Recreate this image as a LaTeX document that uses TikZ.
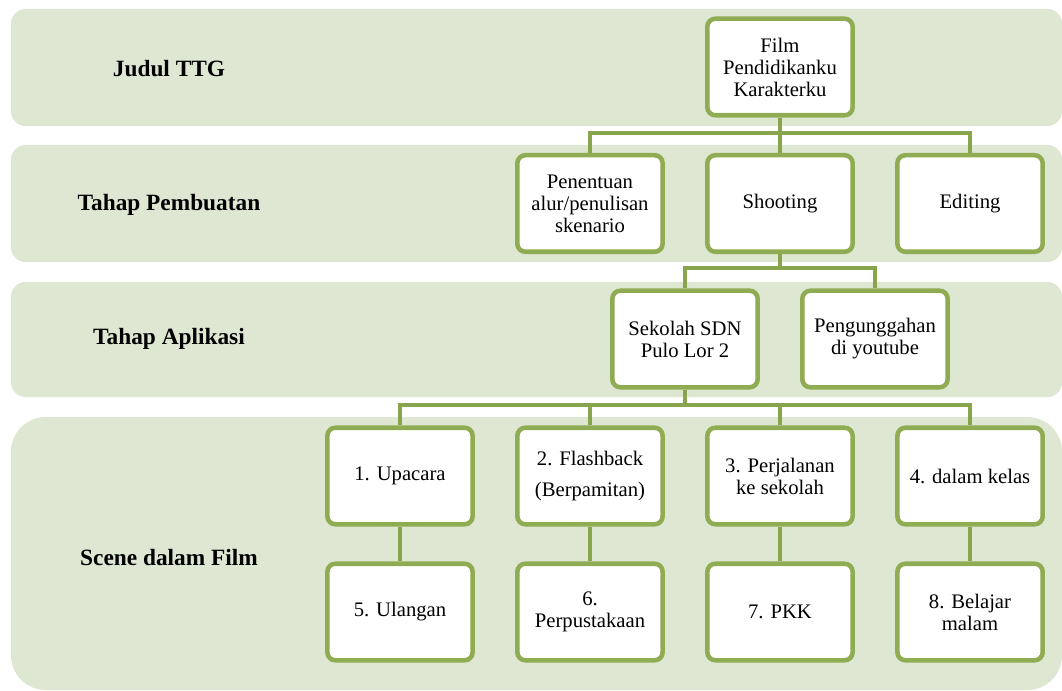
\documentclass[tikz,border=0pt]{standalone}
\usepackage{fontspec}
\setmainfont{Liberation Serif}
\usetikzlibrary{positioning, calc}
\definecolor{bandfill}{HTML}{DEE7D2}
\definecolor{boxline}{HTML}{8FAC52}
\definecolor{linkline}{HTML}{88A44D}

\begin{document}
\begin{tikzpicture}[
  x=0.75pt, y=-0.75pt,
  line cap=round, line join=round,
  band/.style  = {fill=bandfill, draw=none, rounded corners=11pt},
  stage/.style = {font=\fontsize{17.5}{20}\selectfont\bfseries, anchor=center},
  cell/.style  = {draw=boxline, line width=3.4pt, fill=white, rounded corners=6pt,
                  minimum width=109pt, minimum height=72.4pt, inner sep=2pt,
                  align=center, anchor=center,
                  font=\fontsize{15.5}{16.5}\selectfont},
  link/.style  = {draw=linkline, line width=3pt, line cap=butt, line join=miter}
]
\useasboundingbox (0,0) rectangle (1062,691);

% pita latar
\fill[band] (11,9)   rectangle (1062,126);
\fill[band] (11,145) rectangle (1062,262);
\fill[band] (11,282) rectangle (1062,397);
\fill[band, rounded corners=26pt] (11,417) rectangle (1062,690);

% label tahap
\node[stage] (lj) at (169,69)  {Judul TTG};
\node[stage] (lp) at (169,205) {Tahap Pembuatan};
\node[stage] (la) at (169,339) {Tahap Aplikasi};
\node[stage] (ls) at (169,558) {Scene dalam Film};

% judul
\node[cell] (root) at (780,67) {Film\\Pendidikanku\\Karakterku};

% tahap pembuatan
\node[cell] (pen)   at (590,203.5) {Penentuan\\alur/penulisan\\skenario};
\node[cell] (shoot) at (780,203.5) {Shooting};
\node[cell] (edit)  at (970,203.5) {Editing};

% tahap aplikasi
\node[cell] (sek)  at (685,339) {Sekolah SDN\\Pulo Lor 2};
\node[cell] (peng) at (875,339) {Pengunggahan\\di youtube};

% scene baris atas
\node[cell] (s1) at (400,476) {1. Upacara};
\node[cell] (s2) at (590,476) {2. Flashback\\[6.5pt](Berpamitan)};
\node[cell] (s3) at (780,476) {3. Perjalanan\\ke sekolah};
\node[cell] (s4) at (970,476) {4. dalam kelas};

% scene baris bawah
\node[cell] (s5) at (400,612) {5. Ulangan};
\node[cell] (s6) at (590,612) {6.\\Perpustakaan};
\node[cell] (s7) at (780,612) {7. PKK};
\node[cell] (s8) at (970,612) {8. Belajar\\malam};

% titik cabang
\coordinate (busA) at ($(pen.north)+(0,-20)$);
\coordinate (busB) at ($(sek.north)+(0,-20)$);
\coordinate (busC) at ($(s1.north)+(0,-20.5)$);

% garis judul -> tahap pembuatan
\draw[link] (pen.north) -- (busA) -| (edit.north);
\draw[link] (root.south) -- (shoot.north);

% garis shooting -> aplikasi
\draw[link] (sek.north) -- (busB) -| (peng.north);
\draw[link] (shoot.south) -- (shoot.south |- busB);

% garis sekolah -> scene
\draw[link] (s1.north) -- (busC) -| (s4.north);
\draw[link] (s2.north) -- (s2.north |- busC);
\draw[link] (s3.north) -- (s3.north |- busC);
\draw[link] (sek.south) -- (sek.south |- busC);

% baris atas -> baris bawah
\foreach \a/\b in {s1/s5, s2/s6, s3/s7, s4/s8}
  \draw[link] (\a.south) -- (\b.north);

\end{tikzpicture}
\end{document}
